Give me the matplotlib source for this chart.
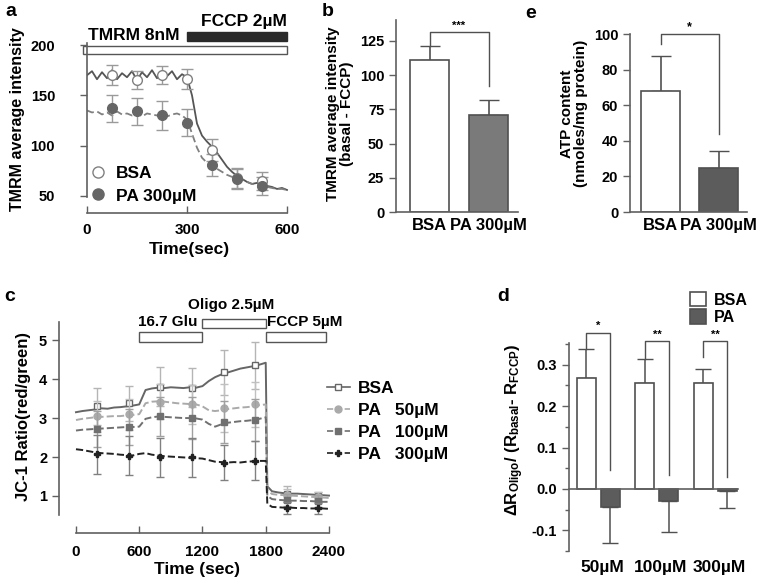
import numpy as np
import matplotlib
matplotlib.use("Agg")
import matplotlib.pyplot as plt
from matplotlib.patches import Rectangle, Patch
from matplotlib.lines import Line2D

plt.rcParams['font.family'] = ['Liberation Sans', 'DejaVu Sans']
plt.rcParams['font.weight'] = 'bold'
plt.rcParams['axes.labelweight'] = 'bold'
plt.rcParams['mathtext.fontset'] = 'custom'
plt.rcParams['mathtext.rm'] = 'Liberation Sans:bold'
plt.rcParams['mathtext.bf'] = 'Liberation Sans:bold'
plt.rcParams['mathtext.default'] = 'bf'

# ---------------- data: panel a (TMRM trace) ----------------
t_a = list(range(0, 601, 15))
bsa_a_trace = [170, 174, 166, 173, 167, 175, 166, 172, 168, 174, 165, 173, 168, 175, 167, 172,
               169, 174, 166, 171, 168,
               150, 122, 110, 104, 99, 93, 86, 79, 74, 70, 67, 64, 62, 63, 61, 60, 59, 57, 58, 56]
pa_a_trace = [135, 133, 134, 131, 133, 130, 134, 131, 132, 130, 133, 129, 132, 131, 130, 133,
              129, 131, 132, 130, 126,
              112, 98, 88, 83, 80, 77, 74, 71, 69, 67, 66, 64, 62, 61, 60, 59, 58, 57, 57, 56]
t_a_pts = [75, 150, 225, 300, 375, 450, 525]
bsa_a_mean = [170, 165, 170, 166, 96, 68, 65]
bsa_a_err = [10, 9, 9, 10, 11, 10, 9]
pa_a_mean = [137, 134, 130, 123, 81, 67, 60]
pa_a_err = [13, 13, 14, 13, 11, 10, 9]

# ---------------- data: panel b ----------------
b_labels = ['BSA', 'PA 300\u00b5M']
b_vals = [111, 71]
b_err = [10, 11]
b_bracket = [131.5, 92]   # bracket top, right leg end

# ---------------- data: panel e ----------------
e_labels = ['BSA', 'PA 300\u00b5M']
e_vals = [68, 24.5]
e_err = [19.5, 9.5]
e_bracket = [100, 94.5, 44]  # top, left leg end, right leg end

# ---------------- data: panel c (JC-1) ----------------
t_c = list(range(0, 1801, 60)) + [1815] + list(range(1860, 2401, 60))
bsa_c = [3.15, 3.18, 3.2, 3.22, 3.25, 3.24, 3.27, 3.28, 3.3, 3.32, 3.35,
         3.72, 3.76, 3.78, 3.77, 3.79, 3.78, 3.77, 3.79, 3.78, 3.82,
         3.95, 4.05, 4.12, 4.17, 4.22, 4.27, 4.3, 4.33, 4.37, 4.42,
         1.25, 1.12, 1.09, 1.07, 1.06, 1.06, 1.05, 1.04, 1.03, 1.02, 1.01]
pa50_c = [2.95, 2.98, 3.0, 3.02, 3.03, 3.04, 3.05, 3.05, 3.07, 3.08, 3.1,
          3.38, 3.42, 3.43, 3.42, 3.4, 3.38, 3.37, 3.36, 3.35, 3.3,
          3.2, 3.18, 3.2, 3.23, 3.25, 3.27, 3.28, 3.3, 3.33, 3.35,
          1.15, 1.05, 1.03, 1.02, 1.01, 1.0, 0.99, 0.98, 0.97, 0.96, 0.95]
pa100_c = [2.68, 2.7, 2.71, 2.72, 2.73, 2.74, 2.75, 2.76, 2.77, 2.77, 2.78,
           2.98, 3.02, 3.04, 3.03, 3.02, 3.01, 3.0, 3.0, 2.99, 2.96,
           2.85, 2.78, 2.84, 2.88, 2.9, 2.92, 2.93, 2.95, 2.98, 3.02,
           1.0, 0.92, 0.9, 0.89, 0.88, 0.88, 0.87, 0.87, 0.86, 0.85, 0.85]
pa300_c = [2.2, 2.18, 2.15, 2.12, 2.1, 2.09, 2.08, 2.06, 2.05, 2.04, 2.08,
           2.1, 2.06, 2.04, 2.02, 2.01, 2.0, 1.99, 1.98, 1.97, 1.96,
           1.92, 1.88, 1.87, 1.86, 1.87, 1.86, 1.88, 1.89, 1.9, 1.9,
           0.8, 0.72, 0.71, 0.7, 0.7, 0.69, 0.69, 0.68, 0.68, 0.68, 0.67]
t_c_pts = [200, 500, 800, 1100, 1400, 1700, 2000, 2300]
bsa_c_pts = [3.3, 3.38, 3.8, 3.78, 4.17, 4.35, 1.05, 1.0]
bsa_c_err = [0.47, 0.45, 0.5, 0.5, 0.58, 0.6, 0.2, 0.1]
pa50_c_pts = [3.05, 3.1, 3.42, 3.35, 3.25, 3.35, 1.02, 0.97]
pa50_c_err = [0.4, 0.4, 0.45, 0.5, 0.62, 0.57, 0.15, 0.12]
pa100_c_pts = [2.72, 2.77, 3.05, 3.0, 2.9, 2.95, 0.9, 0.88]
pa100_c_err = [0.45, 0.45, 0.5, 0.55, 0.55, 0.55, 0.15, 0.15]
pa300_c_pts = [2.07, 2.03, 2.0, 2.0, 1.85, 1.9, 0.7, 0.68]
pa300_c_err = [0.5, 0.5, 0.5, 0.5, 0.45, 0.5, 0.15, 0.15]

# ---------------- data: panel d ----------------
d_groups = ['50\u00b5M', '100\u00b5M', '300\u00b5M']
d_bsa = [0.267, 0.257, 0.255]
d_bsa_err = [0.07, 0.056, 0.035]
d_pa = [-0.043, -0.03, -0.005]
d_pa_err = [0.087, 0.073, 0.04]
d_stars = ['*', '**', '**']
d_bracket_top = [0.377, 0.357, 0.357]
d_bracket_left = [0.337, 0.313, 0.32]
d_bracket_right = [0.046, 0.034, 0.03]

W, H = 762, 587
fig = plt.figure(figsize=(W / 100, H / 100), dpi=100)


def rect(l, t, r, b):
    return [l / W, 1 - b / H, (r - l) / W, (b - t) / H]


def style(ax, xdir='out'):
    for s in ['top', 'right']:
        ax.spines[s].set_visible(False)
    for s in ['left', 'bottom']:
        ax.spines[s].set_color('#606060')
        ax.spines[s].set_linewidth(1.2)
    ax.tick_params(axis='y', direction='out', length=5, width=1, color='#606060', labelsize=10.5)
    ax.tick_params(axis='x', direction=xdir, length=5, width=1, color='#606060', labelsize=11)


# ===== panel a =====
ax = fig.add_axes(rect(87, 25, 292, 213))
ax.set_xlim(0, 615)
ax.set_ylim(33.1, 219.9)
ax.plot(t_a, bsa_a_trace, '-', color='#555555', lw=1.3)
ax.plot(t_a, pa_a_trace, '--', color='#808080', lw=1.3, dashes=(4, 2))
ax.errorbar(t_a_pts, bsa_a_mean, yerr=bsa_a_err, fmt='o', mfc='white', mec='#808080', ms=7,
            ecolor='#9a9a9a', capsize=4, elinewidth=1, mew=1)
ax.errorbar(t_a_pts, pa_a_mean, yerr=pa_a_err, fmt='o', mfc='#666666', mec='#666666', ms=7,
            ecolor='#9a9a9a', capsize=4, elinewidth=1)
style(ax, xdir='in')
ax.spines['left'].set_bounds(49, 202)
ax.spines['bottom'].set_bounds(0, 600)
ax.set_yticks([50, 100, 150, 200])
ax.set_xticks([0, 300, 600])
ax.tick_params(axis='y', pad=18)
ax.tick_params(axis='x', pad=7)
ax.add_patch(Rectangle((-13, 191), 613, 8, fc='white', ec='#555555', lw=1, clip_on=False))
ax.add_patch(Rectangle((300, 204), 300, 9, fc='#2a2a2a', ec='#2a2a2a', lw=1, clip_on=False))
ax.text(141, 209, 'TMRM 8nM', ha='center', va='center', fontsize=12.5)
ax.text(471, 223, 'FCCP 2\u00b5M', ha='center', va='center', fontsize=12.5)
ax.set_ylabel('TMRM average intensity', fontsize=11.5, labelpad=4)
ax.set_xlabel('Time(sec)', fontsize=12.5, labelpad=4)
h_a = [Line2D([], [], ls='none', marker='o', mfc='white', mec='#808080', ms=8),
       Line2D([], [], ls='none', marker='o', mfc='#666666', mec='#666666', ms=8)]
fig.legend(h_a, ['BSA', 'PA 300\u00b5M'], loc='center left',
           bbox_to_anchor=(89 / W, 1 - 184.5 / H), frameon=False, fontsize=12.5,
           handlelength=1, handletextpad=0.55, labelspacing=0.45, borderpad=0, borderaxespad=0)
fig.text(5 / W, 1 - 11 / H, 'a', fontsize=14, va='center')

# ===== panel b =====
ax = fig.add_axes(rect(396, 15, 518, 212))
ax.set_ylim(0, 144)
ax.set_xlim(-0.568, 1.5)
xb = np.arange(len(b_vals))
ax.bar(xb, b_vals, width=0.66, color=['white', '#7a7a7a'], edgecolor='#505050', lw=1.2, zorder=2)
ax.errorbar(xb, b_vals, yerr=[[0, 0], b_err], fmt='none', ecolor='#505050', capsize=7, elinewidth=1.2, zorder=1)
style(ax)
ax.spines['left'].set_bounds(0, 140)
ax.set_yticks([0, 25, 50, 75, 100, 125])
ax.set_xticks(xb)
ax.set_xticklabels(b_labels, fontsize=12)
ax.tick_params(axis='x', length=0, pad=4)
ax.plot([xb[0], xb[0], xb[1], xb[1]],
        [b_vals[0] + b_err[0], b_bracket[0], b_bracket[0], b_bracket[1]], color='#505050', lw=1)
ax.text((xb[0] + xb[1]) / 2, b_bracket[0] + 1, '***', ha='center', va='bottom', fontsize=8)
ax.set_ylabel('TMRM average intensity\n(basal - FCCP)', fontsize=11, labelpad=4, linespacing=1.0)
fig.text(322 / W, 1 - 11 / H, 'b', fontsize=14, va='center')

# ===== panel e =====
ax = fig.add_axes(rect(630, 15, 747, 212))
ax.set_ylim(0, 110.7)
ax.set_xlim(-0.526, 1.49)
xe = np.arange(len(e_vals))
ax.bar(xe, e_vals, width=0.67, color=['white', '#5c5c5c'], edgecolor='#505050', lw=1.2, zorder=2)
ax.errorbar(xe, e_vals, yerr=[[0, 0], e_err], fmt='none', ecolor='#505050', capsize=7, elinewidth=1.2, zorder=1)
style(ax)
ax.spines['left'].set_bounds(0, 100)
ax.set_yticks([0, 20, 40, 60, 80, 100])
ax.set_xticks(xe)
ax.set_xticklabels(e_labels, fontsize=12)
ax.tick_params(axis='x', length=0, pad=4)
ax.plot([xe[0], xe[0], xe[1], xe[1]],
        [e_bracket[1], e_bracket[0], e_bracket[0], e_bracket[2]], color='#505050', lw=1, clip_on=False)
ax.text((xe[0] + xe[1]) / 2, e_bracket[0] + 0.5, '*', ha='center', va='bottom', fontsize=9)
ax.set_ylabel('ATP content\n(nmoles/mg protein)', fontsize=11, labelpad=4, linespacing=1.0)
fig.text(525 / W, 1 - 13 / H, 'e', fontsize=14, va='center')

# ===== panel c =====
ax = fig.add_axes(rect(59, 300, 335, 533))
ax.set_xlim(-161, 2457)
ax.set_ylim(0.05, 6.03)
series_c = [
    ('BSA', bsa_c, bsa_c_pts, bsa_c_err, '-', 's', 'white', '#666666', '#b5b5b5'),
    ('PA   50\u00b5M', pa50_c, pa50_c_pts, pa50_c_err, '--', 'o', '#aaaaaa', '#aaaaaa', '#c0c0c0'),
    ('PA   100\u00b5M', pa100_c, pa100_c_pts, pa100_c_err, '--', 's', '#707070', '#707070', '#a0a0a0'),
    ('PA   300\u00b5M', pa300_c, pa300_c_pts, pa300_c_err, '--', 'P', '#222222', '#222222', '#808080'),
]
handles_c = []
for name, tr, pts, err, ls, mk, mfc, col, ecol in series_c:
    ax.plot(t_c, tr, ls, color=col, lw=1.4)
    ax.errorbar(t_c_pts, pts, yerr=err, fmt='none', ecolor=ecol, capsize=3, elinewidth=1)
    ax.plot(t_c_pts, pts, ls='none', marker=mk, mfc=mfc, mec=col, ms=5)
    handles_c.append(Line2D([], [], ls=ls, color=col, marker=mk, mfc=mfc, mec=col, ms=5, lw=1.2))
style(ax, xdir='in')
ax.spines['left'].set_bounds(0.5, 5.46)
ax.spines['bottom'].set_bounds(0, 2400)
ax.set_yticks([1, 2, 3, 4, 5])
ax.set_xticks([0, 600, 1200, 1800, 2400])
ax.tick_params(axis='x', pad=9)
ax.add_patch(Rectangle((600, 4.95), 600, 0.25, fc='white', ec='#555555', lw=1, clip_on=False))
ax.add_patch(Rectangle((1200, 5.3), 600, 0.24, fc='white', ec='#555555', lw=1, clip_on=False))
ax.add_patch(Rectangle((1800, 4.95), 570, 0.25, fc='white', ec='#555555', lw=1, clip_on=False))
ax.text(873, 5.46, '16.7 Glu', ha='center', va='center', fontsize=11)
ax.text(1470, 5.9, 'Oligo 2.5\u00b5M', ha='center', va='center', fontsize=11)
ax.text(1812, 5.46, 'FCCP 5\u00b5M', ha='left', va='center', fontsize=11)
ax.set_ylabel('JC-1 Ratio(red/green)', fontsize=12, labelpad=6)
ax.set_xlabel('Time (sec)', fontsize=12.5, labelpad=2)
fig.legend(handles_c, [s[0] for s in series_c], loc='center left',
           bbox_to_anchor=(327 / W, 1 - 421.5 / H), frameon=False, fontsize=12.5,
           handlelength=1.3, handletextpad=0.5, labelspacing=0.4, borderpad=0, borderaxespad=0)
fig.text(4 / W, 1 - 297 / H, 'c', fontsize=14, va='center')

# ===== panel d =====
ax = fig.add_axes(rect(569, 300, 740, 560))
ax.set_ylim(-0.1715, 0.4565)
ax.set_xlim(-0.504, 2.42)
xd = np.arange(len(d_groups))
off, bw = 0.205, 0.325
ax.bar(xd - off, d_bsa, width=bw, color='white', edgecolor='#505050', lw=1.2, zorder=2)
ax.bar(xd + off, d_pa, width=bw, color='#5c5c5c', edgecolor='#505050', lw=1.2, zorder=2)
ax.errorbar(xd - off, d_bsa, yerr=[[0] * 3, d_bsa_err], fmt='none', ecolor='#505050', capsize=6,
            elinewidth=1.1, zorder=1)
ax.errorbar(xd + off, d_pa, yerr=[d_pa_err, [0] * 3], fmt='none', ecolor='#505050', capsize=6,
            elinewidth=1.1, zorder=1)
for i in range(len(d_groups)):
    ax.plot([xd[i] - off, xd[i] - off, xd[i] + off, xd[i] + off],
            [d_bracket_left[i], d_bracket_top[i], d_bracket_top[i], d_bracket_right[i]],
            color='#505050', lw=1, clip_on=False)
    ax.text(xd[i], d_bracket_top[i] + 0.004, d_stars[i], ha='center', va='bottom', fontsize=8)
    ax.text(xd[i] + 0.06, -0.1715, d_groups[i], ha='center', va='top', fontsize=12.5)
style(ax)
ax.spines['left'].set_bounds(-0.15, 0.353)
ax.spines['bottom'].set_position(('data', 0))
ax.spines['bottom'].set_bounds(-0.504, 2.39)
ax.set_xticks([])
ax.set_yticks([-0.1, 0.0, 0.1, 0.2, 0.3])
ax.set_yticklabels(['-0.1', '0.0', '0.1', '0.2', '0.3'])
ax.set_yticks([-0.15, -0.05, 0.05, 0.15, 0.25, 0.35], minor=True)
ax.tick_params(axis='y', which='minor', length=3, width=1, color='#606060')
ax.set_ylabel(r'$\Delta$R$_{Oligo}$/ (R$_{basal}$- R$_{FCCP}$)', fontsize=12, labelpad=4)
h_d = [Patch(fc='white', ec='#505050', lw=1.2), Patch(fc='#5c5c5c', ec='#505050', lw=1.2)]
fig.legend(h_d, ['BSA', 'PA'], loc='center left', bbox_to_anchor=(690 / W, 1 - 308.5 / H),
           frameon=False, fontsize=11.5, handlelength=1.0, handleheight=1.0, handletextpad=0.5,
           labelspacing=0.1, borderpad=0, borderaxespad=0)
fig.text(497 / W, 1 - 297 / H, 'd', fontsize=14, va='center')

fig.savefig('out.png', dpi=100)
